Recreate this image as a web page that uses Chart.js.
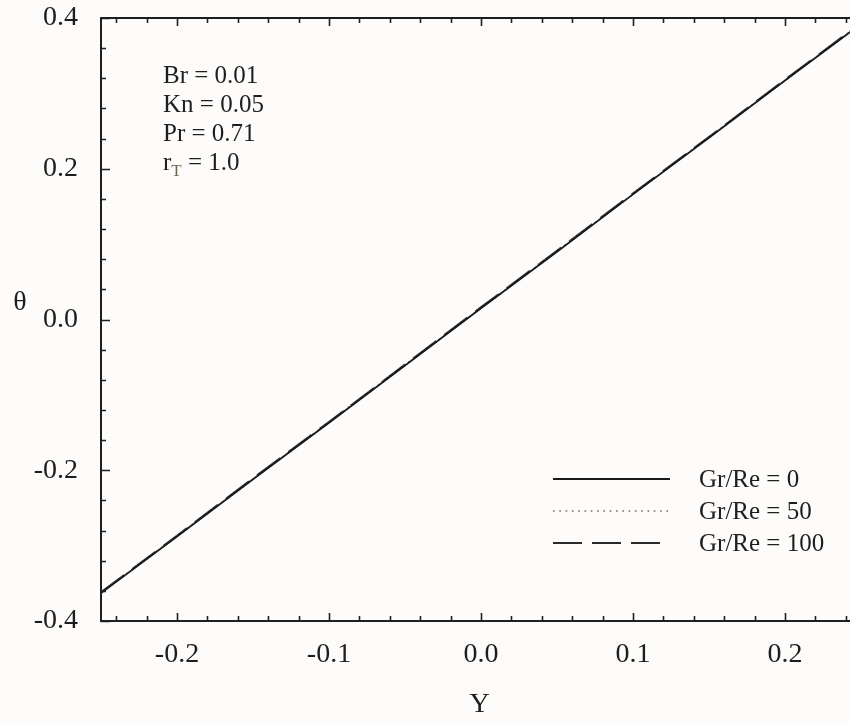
<!DOCTYPE html>
<html>
<head>
<meta charset="utf-8">
<script src="https://cdn.jsdelivr.net/npm/chart.js@4"></script>
<style>
  html, body { margin: 0; padding: 0; background: #fdfcfb; }
</style>
</head>
<body>
<canvas id="chart" width="850" height="724"></canvas>
<script>
// Y positions and temperature profiles for the three Gr/Re cases
const yValues    = [-0.25, -0.20, -0.15, -0.10, -0.05, 0.00, 0.05, 0.10, 0.15, 0.20, 0.25];
const thetaGr0   = [-0.363, -0.288, -0.212, -0.137, -0.061, 0.015, 0.090, 0.166, 0.241, 0.317, 0.392];
const thetaGr50  = [-0.363, -0.287, -0.212, -0.136, -0.060, 0.015, 0.091, 0.166, 0.242, 0.317, 0.393];
const thetaGr100 = [-0.362, -0.287, -0.211, -0.136, -0.060, 0.016, 0.091, 0.167, 0.242, 0.318, 0.393];
const seriesLabels = ['Gr/Re = 0', 'Gr/Re = 50', 'Gr/Re = 100'];

const xMajorTicks = [-0.2, -0.1, 0.0, 0.1, 0.2];
const yMajorTicks = [-0.4, -0.2, 0.0, 0.2, 0.4];
const paramLines  = ['Br = 0.01', 'Kn = 0.05', 'Pr = 0.71'];

const SERIF = '"Liberation Serif", "Times New Roman", serif';
const INK = '#1e1e1e';

function toPoints(ys) {
  return yValues.map((y, i) => ({ x: y, y: ys[i] }));
}

// minor tick positions: every 0.02 on Y, every 0.04 on theta
const xMinor = [];
for (let i = -12; i <= 12; i++) xMinor.push(i * 0.02);
const yMinor = [];
for (let i = -10; i <= 10; i++) yMinor.push(i * 0.04);

const frame = {
  id: 'frame',
  beforeDraw(chart) {
    const c = chart.ctx;
    c.save();
    c.fillStyle = '#fdfcfb';
    c.fillRect(0, 0, chart.width, chart.height);
    c.restore();
  },
  afterDraw(chart) {
    const c = chart.ctx;
    const a = chart.chartArea;
    const sx = chart.scales.x, sy = chart.scales.y;
    c.save();
    c.strokeStyle = INK;
    c.lineWidth = 2;
    c.beginPath();
    c.moveTo(a.right, a.top); c.lineTo(a.left, a.top);
    c.lineTo(a.left, a.bottom); c.lineTo(a.right, a.bottom);
    c.stroke();

    // inward ticks
    c.lineWidth = 1.6;
    c.beginPath();
    xMinor.forEach(v => {
      if (v < sx.min || v > sx.max) return;
      const px = Math.round(sx.getPixelForValue(v)) + 0.5;
      const len = xMajorTicks.some(m => Math.abs(m - v) < 1e-9) ? 8 : 5;
      c.moveTo(px, a.bottom); c.lineTo(px, a.bottom - len);
      c.moveTo(px, a.top); c.lineTo(px, a.top + len);
    });
    yMinor.forEach(v => {
      const py = Math.round(sy.getPixelForValue(v)) + 0.5;
      const len = yMajorTicks.some(m => Math.abs(m - v) < 1e-9) ? 9 : 5;
      c.moveTo(a.left, py); c.lineTo(a.left + len, py);
    });
    c.stroke();

    // axis titles
    c.fillStyle = INK;
    c.textAlign = 'center';
    c.textBaseline = 'middle';
    c.font = '28px ' + SERIF;
    c.fillText('\u03b8', 20, 303);
    c.fillText('Y', (a.left + a.right) / 2 + 4, 705);

    // parameters block
    c.textAlign = 'left';
    c.textBaseline = 'alphabetic';
    c.font = '25px ' + SERIF;
    paramLines.forEach((t, i) => c.fillText(t, 163, 83 + i * 29));
    const rBase = 83 + 3 * 29;
    c.fillText('r', 163, rBase);
    const rw = c.measureText('r').width;
    c.font = '17px ' + SERIF;
    c.fillStyle = '#6a6852';
    c.fillText('T', 163 + rw, rBase + 6);
    const tw = c.measureText('T').width;
    c.font = '25px ' + SERIF;
    c.fillStyle = INK;
    c.fillText(' = 1.0', 163 + rw + tw, rBase);

    // legend
    chart.data.datasets.forEach((ds, i) => {
      const ly = 479 + i * 32;
      c.save();
      c.strokeStyle = ds.borderColor;
      c.lineWidth = ds.borderWidth;
      c.setLineDash(ds.borderDash || []);
      c.beginPath();
      c.moveTo(553, ly); c.lineTo(i === 2 ? 660 : 670, ly);
      c.stroke();
      c.restore();
      c.fillStyle = INK;
      c.font = '25px ' + SERIF;
      c.textBaseline = 'middle';
      c.fillText(ds.label, 699, ly + 1);
    });
    c.restore();
  }
};

new Chart(document.getElementById('chart'), {
  type: 'line',
  data: {
    datasets: [
      { label: seriesLabels[0], data: toPoints(thetaGr0), borderColor: '#1a1a1a', borderWidth: 1.8 },
      { label: seriesLabels[1], data: toPoints(thetaGr50), borderColor: '#6e6e6e', borderWidth: 1.6, borderDash: [1.6, 4.7] },
      { label: seriesLabels[2], data: toPoints(thetaGr100), borderColor: '#2a2a2a', borderWidth: 2.2, borderDash: [29, 10] }
    ]
  },
  options: {
    responsive: false,
    animation: false,
    devicePixelRatio: 1,
    layout: { padding: { top: 18, right: 0, left: 0, bottom: 0 } },
    elements: { point: { radius: 0 }, line: { tension: 0 } },
    plugins: { legend: { display: false }, tooltip: { enabled: false } },
    scales: {
      x: {
        type: 'linear',
        min: -0.25,
        max: 0.2428,
        grid: { display: false },
        border: { display: false },
        afterBuildTicks: s => { s.ticks = xMajorTicks.map(v => ({ value: v })); },
        afterFit: s => { s.height = 103; s.paddingLeft = 0; s.paddingRight = 0; },
        ticks: {
          autoSkip: false,
          maxRotation: 0,
          padding: 9,
          color: INK,
          font: { family: SERIF, size: 28 },
          callback: v => v.toFixed(1)
        }
      },
      y: {
        type: 'linear',
        min: -0.4,
        max: 0.4,
        grid: { display: false },
        border: { display: false },
        afterBuildTicks: s => { s.ticks = yMajorTicks.map(v => ({ value: v })); },
        afterFit: s => { s.width = 101; s.paddingTop = 0; s.paddingBottom = 0; },
        ticks: {
          autoSkip: false,
          padding: 15,
          color: INK,
          font: { family: SERIF, size: 28 },
          callback: v => v.toFixed(1)
        }
      }
    }
  },
  plugins: [frame]
});
</script>
</body>
</html>
